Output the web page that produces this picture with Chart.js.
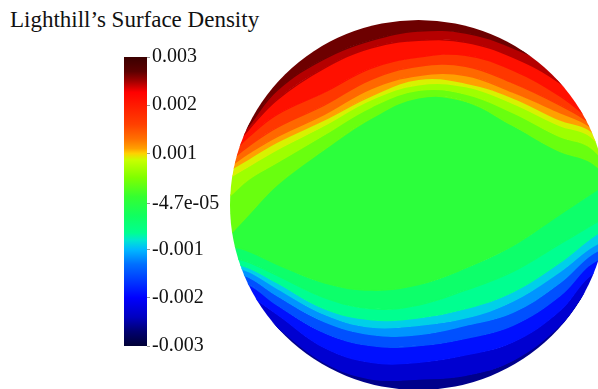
<!DOCTYPE html>
<html>
<head>
<meta charset="utf-8">
<script src="https://cdn.jsdelivr.net/npm/chart.js@4.4.1/dist/chart.umd.min.js"></script>
<style>
html, body { margin: 0; padding: 0; width: 598px; height: 389px; overflow: hidden; background: #fff; }
#title { position: absolute; left: 10px; top: 7px; font-family: "Liberation Serif", serif; font-size: 23px; color: #111; white-space: nowrap; }
#bar { position: absolute; left: 0; top: 0; }
#disk { position: absolute; left: 230px; top: 20px; }
</style>
</head>
<body>
<div id="title">Lighthill’s Surface Density</div>
<canvas id="bar" width="230" height="389"></canvas>
<canvas id="disk" width="377" height="370"></canvas>
<script>
// colour bar: range, ticks and colour map
const barMin = -0.003;
const barMax = 0.003;
const tickValues = [0.003, 0.002, 0.001, -0.000047, -0.001, -0.002, -0.003];
const tickLabels = ['0.003', '0.002', '0.001', '-4.7e-05', '-0.001', '-0.002', '-0.003'];
const cmapValues = [0.003, 0.0027, 0.0025, 0.00227, 0.002, 0.0016, 0.0013, 0.0011, 0.001, 0.00086, 0.0005, 0.0001,
  -0.0003, -0.00065, -0.0008, -0.001, -0.0013, -0.0017, -0.002, -0.0024, -0.0027, -0.003];
const cmapColors = ['#3a0000', '#5c0000', '#a00000', '#ff0000', '#ff1a00', '#ff4000', '#ff7000', '#ffa000', '#ffd000', '#c8ff00', '#80ff00', '#35ff30',
  '#10ff60', '#00ff90', '#00e8d0', '#00b8ff', '#0070ff', '#0030ff', '#0000ff', '#0000c0', '#000070', '#000035'];

// disk: contour lines (x across the disk, y up, both -1..1)
const contourX = [-1, -0.9, -0.75, -0.5, -0.25, 0, 0.25, 0.5, 0.75, 0.9, 1];
const levels = [0.0026, 0.0023, 0.0019, 0.0015, 0.0012, 0.001, 0.0008, 0.0005, 0.00025,
  -0.00025, -0.0005, -0.0008, -0.001, -0.0013, -0.0017, -0.0021, -0.0025];
const contourY = [
  [0.30, 0.43, 0.62, 0.79, 0.89, 0.94, 0.93, 0.85, 0.72, 0.55, 0.45],          // 0.0026
  [0.29, 0.41, 0.57, 0.74, 0.85, 0.89, 0.88, 0.80, 0.66, 0.51, 0.41],          // 0.0023
  [0.27, 0.37, 0.49, 0.61, 0.74, 0.80, 0.81, 0.73, 0.59, 0.47, 0.37],          // 0.0019
  [0.24, 0.32, 0.42, 0.54, 0.68, 0.75, 0.75, 0.66, 0.54, 0.45, 0.34],          // 0.0015
  [0.21, 0.28, 0.37, 0.49, 0.63, 0.70, 0.70, 0.61, 0.50, 0.43, 0.32],          // 0.0012
  [0.19, 0.25, 0.34, 0.46, 0.59, 0.68, 0.66, 0.58, 0.46, 0.41, 0.30],          // 0.001
  [0.15, 0.21, 0.30, 0.43, 0.57, 0.65, 0.64, 0.55, 0.43, 0.38, 0.27],          // 0.0008
  [0.05, 0.14, 0.23, 0.38, 0.53, 0.62, 0.60, 0.50, 0.37, 0.32, 0.22],          // 0.0005
  [-0.16, -0.05, 0.11, 0.30, 0.47, 0.58, 0.56, 0.43, 0.29, 0.24, 0.16],        // 0.00025
  [-0.22, -0.25, -0.32, -0.42, -0.46, -0.43, -0.34, -0.22, -0.05, 0.05, 0.12], // -0.00025
  [-0.28, -0.31, -0.38, -0.50, -0.56, -0.54, -0.46, -0.36, -0.21, -0.12, -0.06], // -0.0005
  [-0.31, -0.34, -0.42, -0.56, -0.62, -0.61, -0.56, -0.47, -0.31, -0.19, -0.12], // -0.0008
  [-0.33, -0.36, -0.45, -0.59, -0.66, -0.65, -0.61, -0.52, -0.36, -0.24, -0.18], // -0.001
  [-0.36, -0.39, -0.49, -0.63, -0.70, -0.70, -0.65, -0.58, -0.42, -0.28, -0.22], // -0.0013
  [-0.41, -0.43, -0.54, -0.69, -0.76, -0.76, -0.72, -0.65, -0.49, -0.33, -0.27], // -0.0017
  [-0.46, -0.49, -0.59, -0.77, -0.85, -0.85, -0.81, -0.74, -0.57, -0.39, -0.34], // -0.0021
  [-0.51, -0.54, -0.66, -0.85, -0.94, -0.94, -0.92, -0.84, -0.65, -0.46, -0.41]  // -0.0025
];
// colour value used above the top contour and below the bottom one
const edgeValues = [0.00265, -0.0026];

function hexToRgb(h) {
  return [parseInt(h.slice(1, 3), 16), parseInt(h.slice(3, 5), 16), parseInt(h.slice(5, 7), 16)];
}

function cmapColor(v) {
  if (v >= cmapValues[0]) return cmapColors[0];
  for (let i = 1; i < cmapValues.length; i++) {
    if (v >= cmapValues[i]) {
      const t = (cmapValues[i - 1] - v) / (cmapValues[i - 1] - cmapValues[i]);
      const a = hexToRgb(cmapColors[i - 1]), b = hexToRgb(cmapColors[i]);
      const c = a.map((x, k) => Math.round(x + (b[k] - x) * t));
      return 'rgb(' + c.join(',') + ')';
    }
  }
  return cmapColors[cmapColors.length - 1];
}

// ---- colour bar ----
new Chart(document.getElementById('bar'), {
  type: 'bar',
  data: {
    labels: ['bar'],
    datasets: [{
      data: [[barMin, barMax]],
      barPercentage: 1,
      categoryPercentage: 1,
      borderWidth: 0,
      backgroundColor: function(context) {
        const chart = context.chart;
        if (!chart.chartArea) return '#888';
        const y = chart.scales.y;
        const top = y.getPixelForValue(barMax), bottom = y.getPixelForValue(barMin);
        const g = chart.ctx.createLinearGradient(0, top, 0, bottom);
        cmapValues.forEach((v, i) => {
          g.addColorStop((y.getPixelForValue(v) - top) / (bottom - top), cmapColors[i]);
        });
        return g;
      }
    }]
  },
  options: {
    responsive: false,
    animation: false,
    events: [],
    layout: { padding: { left: 124, top: 57, bottom: 43, right: 0 } },
    plugins: { legend: { display: false }, tooltip: { enabled: false } },
    scales: {
      x: { display: false },
      y: {
        position: 'right',
        min: barMin,
        max: barMax,
        afterFit: function(scale) { scale.width = 230 - 147; },
        afterBuildTicks: function(scale) { scale.ticks = tickValues.map(v => ({ value: v })); },
        border: { display: false },
        grid: { drawOnChartArea: false, tickLength: 3, color: '#999' },
        ticks: {
          padding: 2,
          color: '#111',
          font: { family: 'Liberation Serif', size: 20 },
          callback: function(value, index) { return tickLabels[index]; }
        }
      }
    }
  }
});

// ---- disk ----
const diskClip = {
  id: 'diskClip',
  beforeDatasetsDraw(chart) {
    const { ctx, scales: { x, y } } = chart;
    const cx = x.getPixelForValue(0), cy = y.getPixelForValue(0);
    ctx.save();
    ctx.beginPath();
    ctx.ellipse(cx, cy, x.getPixelForValue(1) - cx, cy - y.getPixelForValue(1), 0, 0, Math.PI * 2);
    ctx.clip();
  },
  afterDatasetsDraw(chart) {
    chart.ctx.restore();
  }
};

const diskSets = levels.map((lv, i) => {
  const mid = i === 0 ? edgeValues[0] : (levels[i - 1] + lv) / 2;
  const col = cmapColor(mid);
  return {
    label: String(lv),
    data: contourX.map((x, j) => ({ x: x, y: contourY[i][j] })),
    fill: i === 0 ? 'end' : '-1',
    backgroundColor: col,
    borderColor: col,
    borderWidth: 1.5
  };
});
const lastCol = cmapColor(edgeValues[1]);
diskSets.push({
  label: 'bottom',
  data: contourX.map((x, j) => ({ x: x, y: contourY[levels.length - 1][j] })),
  fill: 'start',
  backgroundColor: lastCol,
  borderColor: lastCol,
  borderWidth: 1.5
});

new Chart(document.getElementById('disk'), {
  type: 'line',
  data: { datasets: diskSets },
  options: {
    responsive: false,
    animation: false,
    events: [],
    layout: { padding: 0 },
    elements: { point: { radius: 0 }, line: { tension: 0.4 } },
    plugins: { legend: { display: false }, tooltip: { enabled: false } },
    scales: {
      x: { type: 'linear', min: -1, max: 1, display: false },
      y: { type: 'linear', min: -1, max: 1, display: false }
    }
  },
  plugins: [diskClip]
});
</script>
</body>
</html>
